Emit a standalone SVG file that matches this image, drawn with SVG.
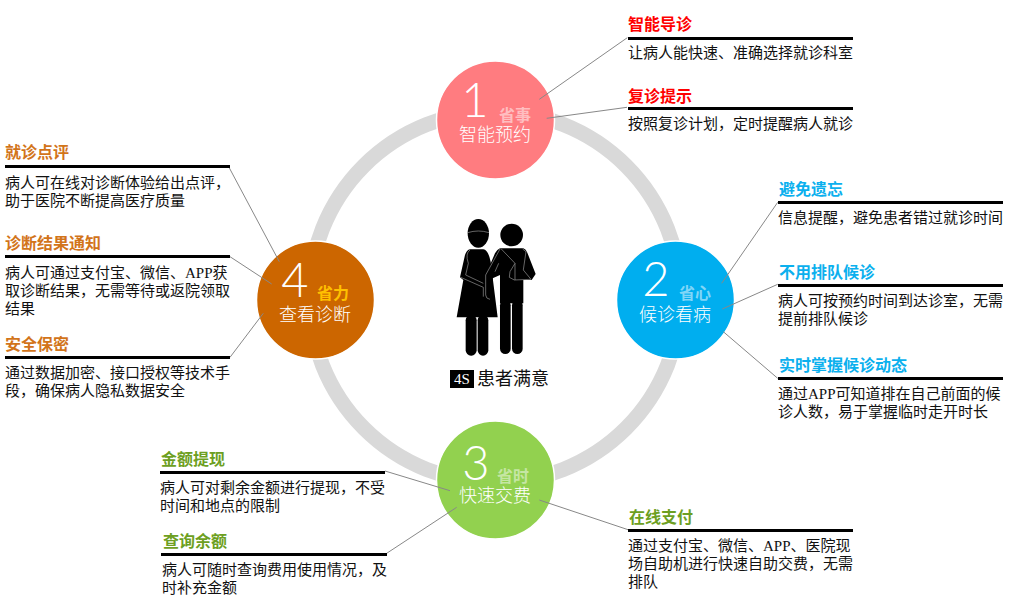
<svg xmlns="http://www.w3.org/2000/svg" width="1010" height="603" viewBox="0 0 1010 603">
<style>
text{font-family:"Liberation Serif","Noto Sans CJK SC",serif}
.b{font-size:15px;fill:#111}
.t{font-size:16px;font-weight:bold}
.red{fill:#f00}.or{fill:#d2741a}.bl{fill:#0bb0ee}.gr{fill:#6d9f22}
.r{fill:#000}
.c{stroke:#fff;stroke-width:1.5}
.n{font-family:Lato,"Open Sans",sans-serif;font-weight:300;font-size:47px;fill:#fff}
.s{font-family:"Noto Sans CJK SC",sans-serif;font-size:16px;font-weight:bold}
.m{font-family:"Noto Sans CJK SC",sans-serif;font-size:18px;font-weight:300;fill:#fff;text-anchor:middle}
.l{stroke:#888;stroke-width:1;fill:none}
.w{fill:none;stroke:#aaa;stroke-width:1.8}
</style>
<circle id="ring" cx="495" cy="297" r="185.500" fill="none" stroke="#d9d9d9" stroke-width="15"/>
<g id="figure" transform="translate(420 200) scale(.3333)">
<ellipse cx="175" cy="100" rx="32" ry="43"/>
<path class="w" d="M143 98Q175 88 207 98"/>
<circle cx="275" cy="105" r="34"/>
<path d="M150 148H190Q205 150 212 185L233 352H110L130 240 120 232 135 165Q140 150 150 148Z"/>
<path class="w" d="M150 150Q135 160 145 190L137 225 190 250"/>
<rect x="137" y="345" width="33" height="122" rx="16"/>
<rect x="173" y="345" width="32" height="122" rx="16"/>
<path d="M240 145H310Q318 148 322 158L347 222 335 240H310V310H240V225L218 235 218 290Q215 300 205 298 195 295 195 285L195 230 225 160Q232 148 240 145Z"/>
<rect x="240" y="300" width="32" height="162" rx="16"/>
<rect x="276" y="300" width="32" height="162" rx="16"/>
<path class="w" d="M243 146L285 190 270 215 268 232 283 240 333 238M285 190V240M308 147L318 155 310 210 333 238M240 147L197 225V285Q198 297 210 298"/>
<path class="w" d="M122 232L190 262V290"/>
<path class="w" d="M236 190L225 215"/>
</g>
<g id="center-label">
<rect x="450" y="370" width="24" height="18" fill="#000"/>
<text x="462" y="384" font-size="15" fill="#fff" text-anchor="middle">4S</text>
<text x="477" y="385" font-size="18" fill="#111">患者满意</text>
</g>
<g id="node-1">
<circle class="c" cx="495.500" cy="120" r="59" fill="#ff7c80"/>
<text class="n" x="475" y="117" text-anchor="middle">1</text>
<text class="s" x="499" y="121" fill="#ffbec0">省事</text>
<text class="m" x="495" y="141">智能预约</text>
</g>
<g id="node-2">
<circle class="c" cx="675.500" cy="300" r="59" fill="#00aeef"/>
<text class="n" x="656" y="296" text-anchor="middle">2</text>
<text class="s" x="679" y="299" fill="#80d6f7">省心</text>
<text class="m" x="675" y="321">候诊看病</text>
</g>
<g id="node-3">
<circle class="c" cx="495.500" cy="480" r="59" fill="#92d14f"/>
<text class="n" x="476" y="480" text-anchor="middle">3</text>
<text class="s" x="497" y="482" fill="#c5e6a3">省时</text>
<text class="m" x="495" y="502">快速交费</text>
</g>
<g id="node-4">
<circle class="c" cx="315.500" cy="300" r="59" fill="#cc6600"/>
<text class="n" x="295" y="297" text-anchor="middle">4</text>
<text class="s" x="317" y="299" fill="#ffc000">省力</text>
<text class="m" x="315" y="321">查看诊断</text>
</g>
<g id="connectors">
<path class="l" d="M627.300 37.700L539.300 99.300"/>
<path class="l" d="M627 107.300L546.700 118.300"/>
<path class="l" d="M777.700 202.300L721.700 283.300"/>
<path class="l" d="M777.700 284.300L722.300 309"/>
<path class="l" d="M777.700 378.300L723.300 331.700"/>
<path class="l" d="M229 167.300L279.300 261.700"/>
<path class="l" d="M230 256.700L271.700 284"/>
<path class="l" d="M230 357.300L263.300 313.300"/>
<path class="l" d="M385 471L450 490.700"/>
<path class="l" d="M386.700 553.300L456.700 507.300"/>
<path class="l" d="M539.300 500L629 530"/>
</g>
<g id="info-1a"><text class="t red" x="628" y="30">智能导诊</text><rect class="r" x="628" y="37" width="225" height="3"/><text class="b" x="628" y="58">让病人能快速、准确选择就诊科室</text></g>
<g id="info-1b"><text class="t red" x="628" y="102">复诊提示</text><rect class="r" x="628" y="107" width="225" height="3"/><text class="b" x="628" y="129">按照复诊计划，定时提醒病人就诊</text></g>
<g id="info-2a"><text class="t bl" x="779" y="195">避免遗忘</text><rect class="r" x="778" y="201" width="225" height="3"/><text class="b" x="778" y="223">信息提醒，避免患者错过就诊时间</text></g>
<g id="info-2b"><text class="t bl" x="779" y="278">不用排队候诊</text><rect class="r" x="778" y="284" width="225" height="3"/><text class="b" x="778" y="306">病人可按预约时间到达诊室，无需</text><text class="b" x="778" y="324">提前排队候诊</text></g>
<g id="info-2c"><text class="t bl" x="779" y="371">实时掌握候诊动态</text><rect class="r" x="778" y="377" width="225" height="3"/><text class="b" x="778" y="399">通过APP可知道排在自己前面的候</text><text class="b" x="778" y="417">诊人数，易于掌握临时走开时长</text></g>
<g id="info-3a"><text class="t gr" x="161" y="465">金额提现</text><rect class="r" x="160" y="471" width="225" height="3"/><text class="b" x="160" y="493">病人可对剩余金额进行提现，不受</text><text class="b" x="160" y="511">时间和地点的限制</text></g>
<g id="info-3b"><text class="t gr" x="163" y="547">查询余额</text><rect class="r" x="161" y="553" width="226" height="3"/><text class="b" x="162" y="575">病人可随时查询费用使用情况，及</text><text class="b" x="162" y="593">时补充金额</text></g>
<g id="info-3c"><text class="t gr" x="629" y="523">在线支付</text><rect class="r" x="628" y="529" width="225" height="3"/><text class="b" x="628" y="551">通过支付宝、微信、APP、医院现</text><text class="b" x="628" y="569">场自助机进行快速自助交费，无需</text><text class="b" x="628" y="587">排队</text></g>
<g id="info-4a"><text class="t or" x="5" y="158">就诊点评</text><rect class="r" x="5" y="165" width="225" height="3"/><text class="b" x="5" y="188">病人可在线对诊断体验给出点评，</text><text class="b" x="5" y="206">助于医院不断提高医疗质量</text></g>
<g id="info-4b"><text class="t or" x="5" y="249">诊断结果通知</text><rect class="r" x="5" y="255" width="225" height="3"/><text class="b" x="5" y="278">病人可通过支付宝、微信、APP获</text><text class="b" x="5" y="296">取诊断结果，无需等待或返院领取</text><text class="b" x="5" y="314">结果</text></g>
<g id="info-4c"><text class="t or" x="5" y="350">安全保密</text><rect class="r" x="5" y="356" width="225" height="3"/><text class="b" x="5" y="378">通过数据加密、接口授权等技术手</text><text class="b" x="5" y="396">段，确保病人隐私数据安全</text></g>
</svg>
